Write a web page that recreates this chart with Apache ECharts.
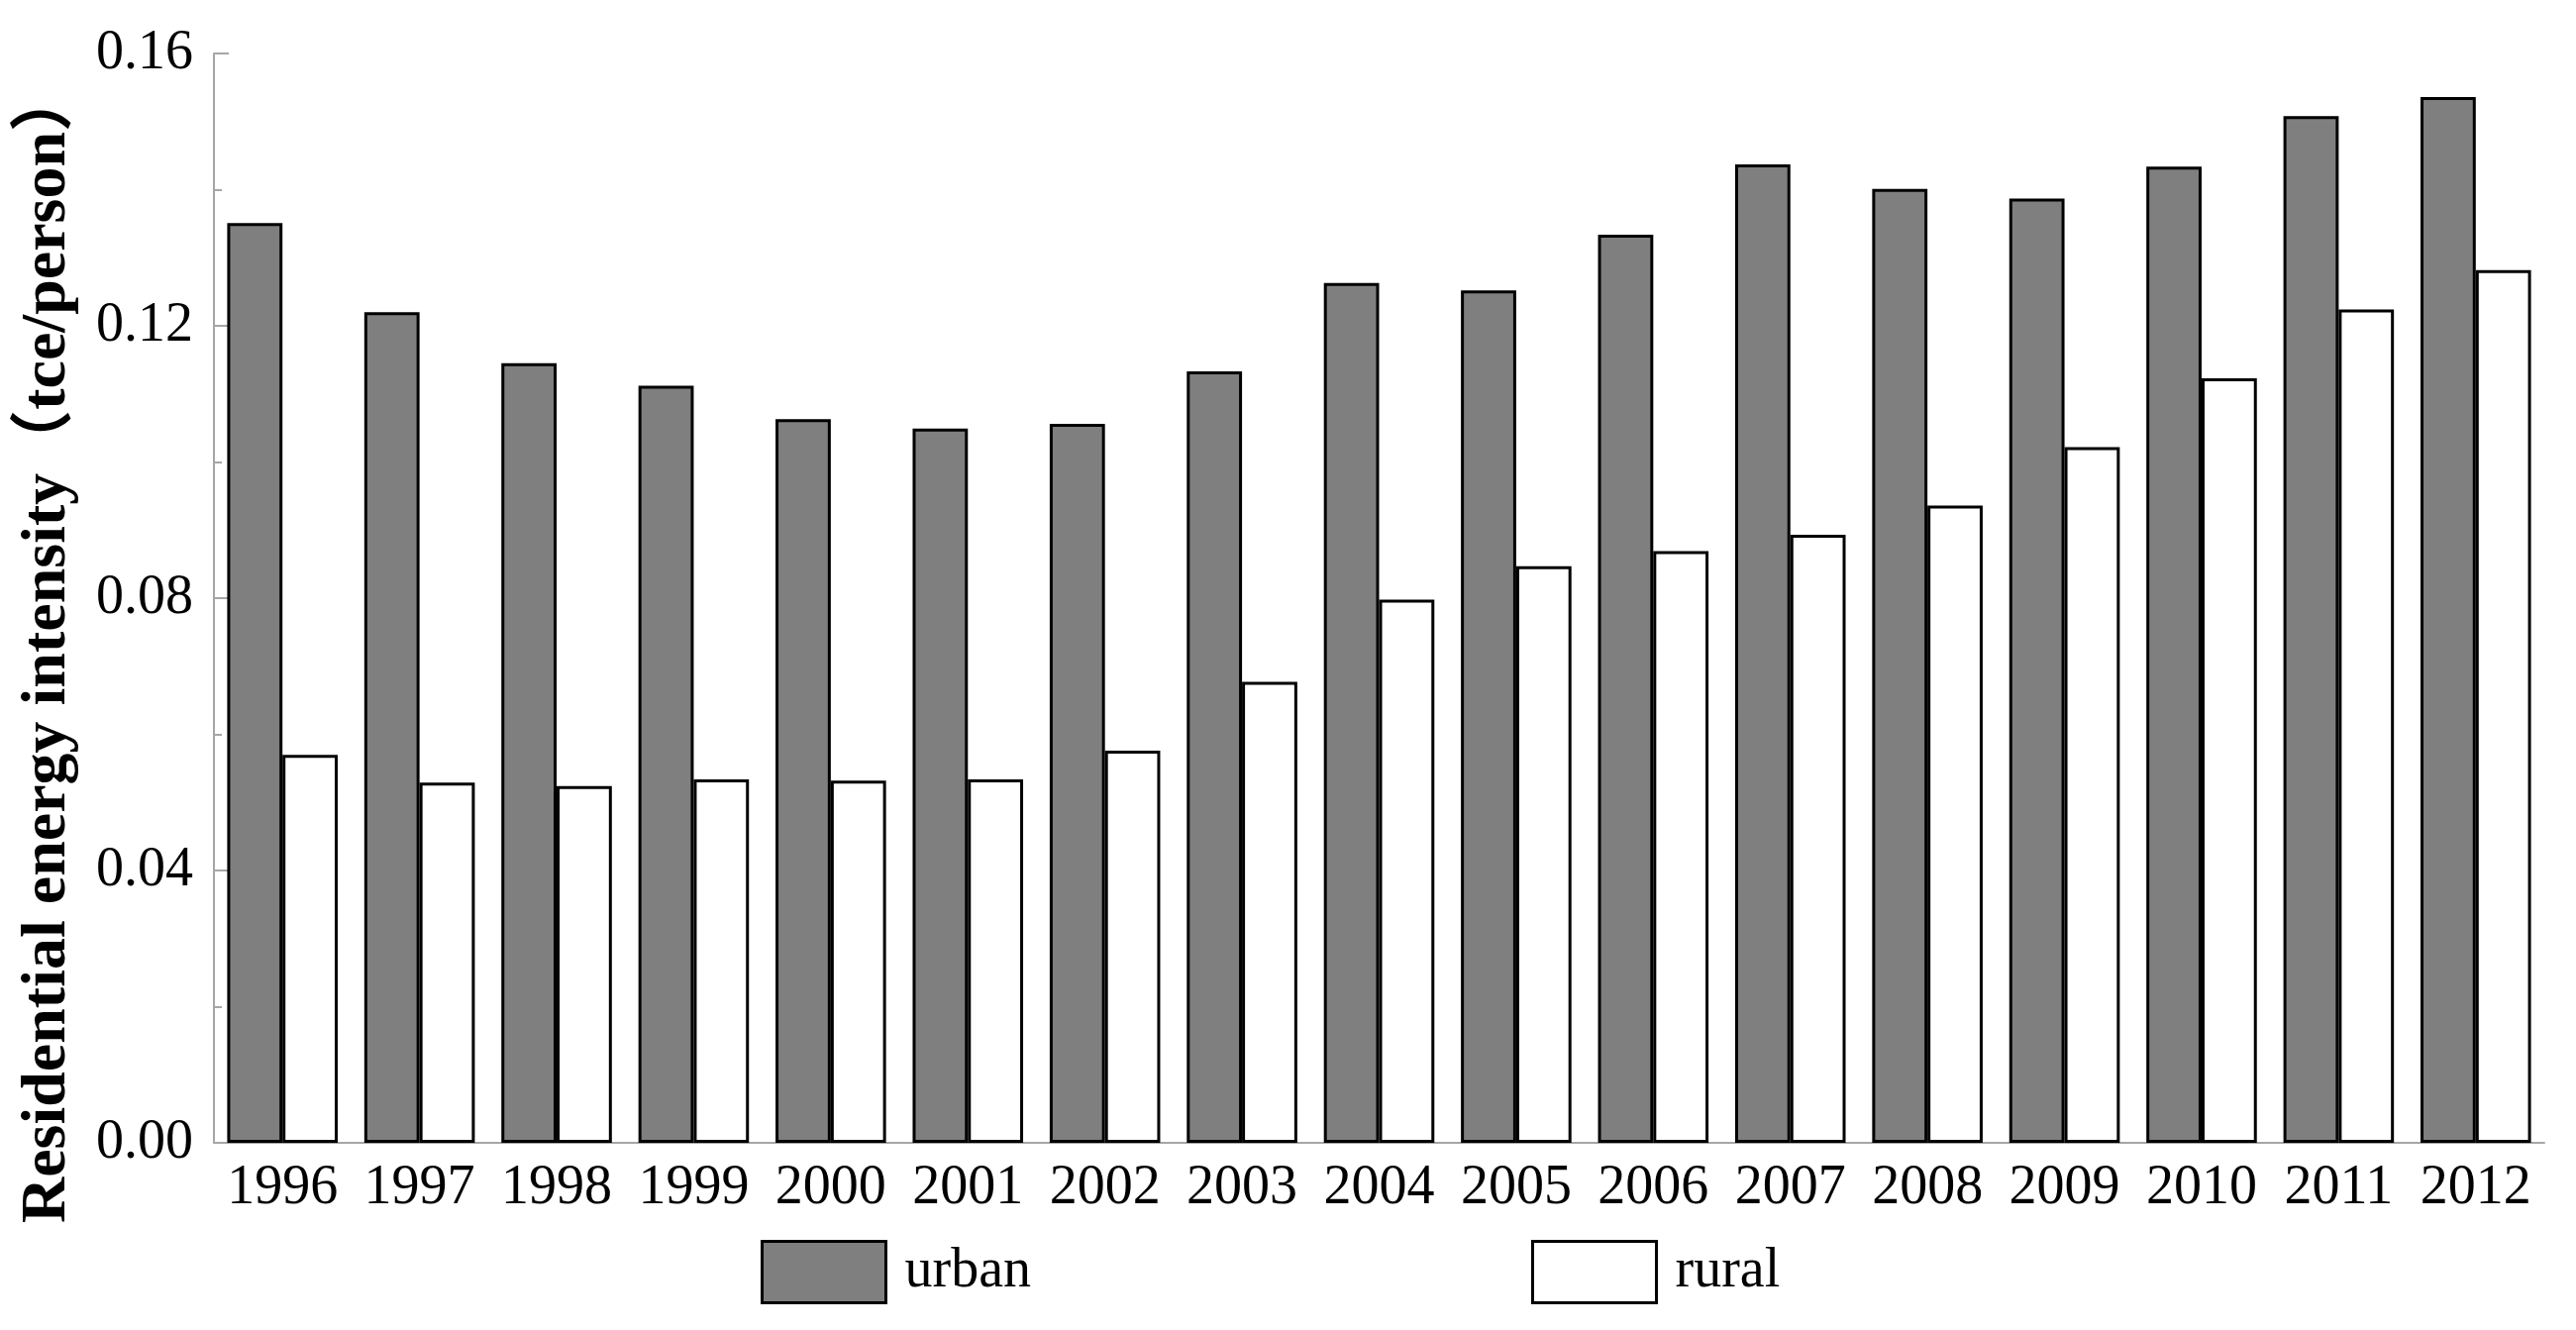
<!DOCTYPE html>
<html>
<head>
<meta charset="utf-8">
<script src="https://cdn.jsdelivr.net/npm/echarts@6/dist/echarts.min.js"></script>
<style>
html,body{margin:0;padding:0;background:#fff;}
#chart{width:2601px;height:1343px;}
</style>
</head>
<body>
<div id="chart"></div>
<script>
const years = ['1996','1997','1998','1999','2000','2001','2002','2003','2004','2005','2006','2007','2008','2009','2010','2011','2012'];
const urban = [0.1351,0.1220,0.1145,0.1112,0.1063,0.1049,0.1056,0.1133,0.1263,0.1252,0.1334,0.1437,0.1401,0.1387,0.1434,0.1508,0.1536];
const rural = [0.0570,0.0529,0.0524,0.0534,0.0532,0.0534,0.0576,0.0677,0.0798,0.0847,0.0869,0.0893,0.0936,0.1022,0.1123,0.1224,0.1282];
const yTicks = [0, 0.04, 0.08, 0.12, 0.16];
const seriesNames = ['urban', 'rural'];
const yTitle = 'Residential energy intensity（tce/person）';

const FONT = "'Liberation Serif', 'Times New Roman', serif";
const chart = echarts.init(document.getElementById('chart'), null, {renderer: 'canvas'});
chart.setOption({
  backgroundColor: '#ffffff',
  animation: false,
  grid: {left: 216, right: 32, top: 54, bottom: 189, containLabel: false},
  legend: {
    data: seriesNames,
    left: 768,
    top: 1252,
    padding: 0,
    itemWidth: 125,
    itemHeight: 62,
    itemGap: 505,
    icon: 'rect',
    selectedMode: false,
    itemStyle: {borderColor: '#000', borderWidth: 3},
    textStyle: {fontFamily: FONT, fontSize: 56, color: '#000', padding: [0, 0, 0, 14]}
  },
  xAxis: {
    type: 'category',
    data: years,
    axisLine: {show: true, lineStyle: {color: '#a6a6a6', width: 2}},
    axisTick: {show: false},
    axisLabel: {fontFamily: FONT, fontSize: 56, color: '#000', margin: 18, interval: 0},
    splitLine: {show: false}
  },
  yAxis: {
    type: 'value',
    min: yTicks[0],
    max: yTicks[yTicks.length - 1],
    interval: yTicks[1] - yTicks[0],
    name: yTitle,
    nameLocation: 'middle',
    nameGap: 136,
    nameMoveOverlap: false,
    nameTextStyle: {fontFamily: FONT + ", 'Noto Sans CJK SC'", fontSize: 64, fontWeight: 'bold', color: '#000', padding: [0, 96, 0, 0]},
    axisLine: {show: true, lineStyle: {color: '#a6a6a6', width: 2}},
    axisTick: {show: true, inside: true, length: 15, lineStyle: {color: '#a6a6a6', width: 2}},
    minorTick: {show: true, splitNumber: 2, length: 8, lineStyle: {color: '#a6a6a6', width: 2}},
    axisLabel: {fontFamily: FONT, fontSize: 56, color: '#000', margin: 21, formatter: v => v.toFixed(2)},
    splitLine: {show: false},
    minorSplitLine: {show: false}
  },
  series: [
    {
      name: seriesNames[0], type: 'bar', data: urban,
      barGap: '0%', barCategoryGap: '19.4%',
      itemStyle: {color: '#7f7f7f', borderColor: '#000', borderWidth: 3}
    },
    {
      name: seriesNames[1], type: 'bar', data: rural,
      barGap: '0%', barCategoryGap: '19.4%',
      itemStyle: {color: '#ffffff', borderColor: '#000', borderWidth: 3}
    }
  ]
});
</script>
</body>
</html>
